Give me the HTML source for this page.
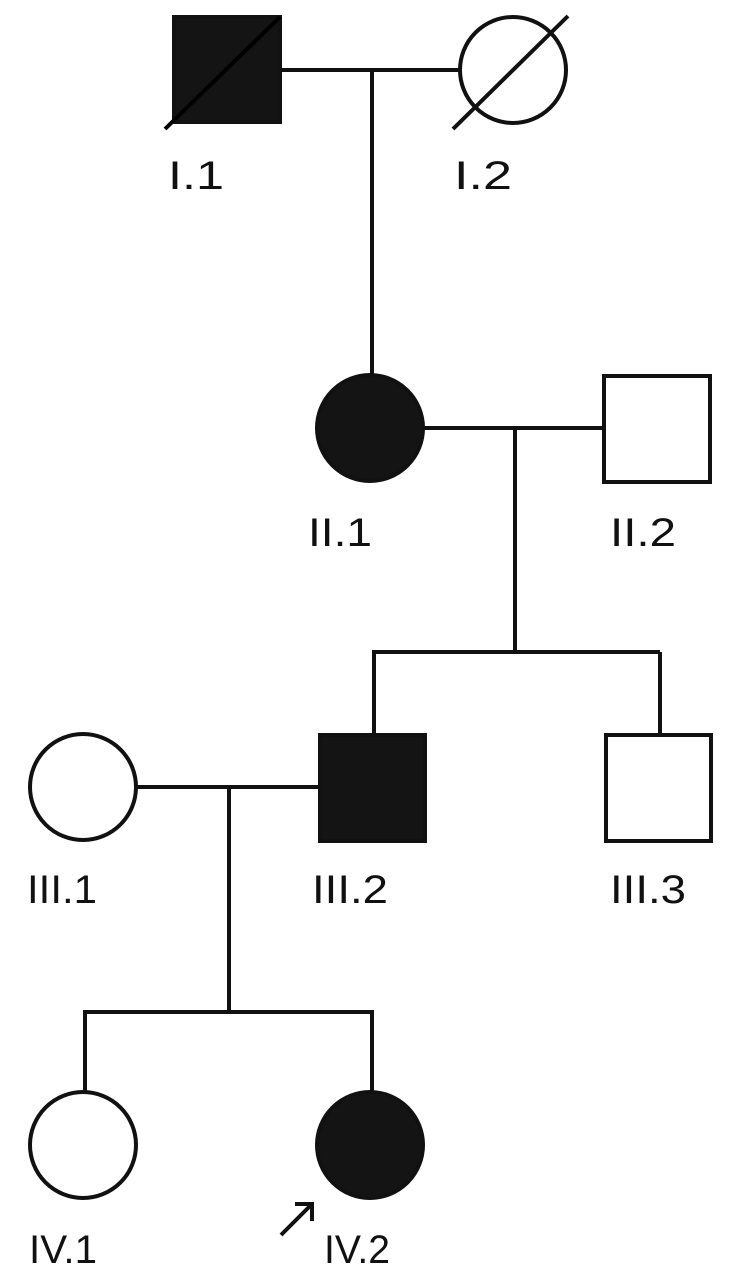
<!DOCTYPE html>
<html><head><meta charset="utf-8"><style>
html,body{margin:0;padding:0;background:#fff;}
svg{display:block;}
text{font-family:"Liberation Sans",sans-serif;font-size:40px;fill:#111;}
</style></head><body>
<svg width="731" height="1280" viewBox="0 0 731 1280" xmlns="http://www.w3.org/2000/svg">
<g stroke="#111" stroke-width="4" fill="none">
<rect x="174" y="17" width="106" height="105" fill="#141414"/>
<line x1="165" y1="129" x2="280" y2="17" stroke="#000"/>
<circle cx="513" cy="70" r="53" fill="#fff"/>
<line x1="453" y1="129" x2="568" y2="16"/>
<line x1="280" y1="70" x2="460" y2="70"/>
<line x1="372" y1="70" x2="372" y2="376"/>
<circle cx="370" cy="428" r="53" fill="#141414"/>
<rect x="604" y="376" width="106" height="106" fill="#fff"/>
<line x1="423" y1="428" x2="604" y2="428"/>
<line x1="515" y1="428" x2="515" y2="652"/>
<line x1="372" y1="652" x2="660" y2="652"/>
<line x1="374" y1="652" x2="374" y2="735"/>
<line x1="660" y1="652" x2="660" y2="735"/>
<circle cx="83" cy="787" r="53" fill="#fff"/>
<rect x="320" y="735" width="105" height="106" fill="#141414"/>
<rect x="606" y="735" width="105" height="106" fill="#fff"/>
<line x1="136" y1="787" x2="320" y2="787"/>
<line x1="229" y1="787" x2="229" y2="1012"/>
<line x1="83" y1="1012" x2="374" y2="1012"/>
<line x1="85" y1="1012" x2="85" y2="1093"/>
<line x1="372" y1="1012" x2="372" y2="1093"/>
<circle cx="83" cy="1145" r="53" fill="#fff"/>
<circle cx="370" cy="1145" r="53" fill="#141414"/>
<line x1="281" y1="1235" x2="311" y2="1205"/>
<polyline points="295,1204 312,1204 312,1221"/>
</g>
<text x="168" y="189" textLength="56" lengthAdjust="spacingAndGlyphs">I.1</text>
<text x="454" y="189" textLength="58" lengthAdjust="spacingAndGlyphs">I.2</text>
<text x="308" y="546" textLength="64" lengthAdjust="spacingAndGlyphs">II.1</text>
<text x="610" y="546" textLength="66" lengthAdjust="spacingAndGlyphs">II.2</text>
<text x="27" y="903" textLength="70" lengthAdjust="spacingAndGlyphs">III.1</text>
<text x="312" y="903" textLength="76" lengthAdjust="spacingAndGlyphs">III.2</text>
<text x="610" y="903" textLength="76" lengthAdjust="spacingAndGlyphs">III.3</text>
<text x="29" y="1263" textLength="68" lengthAdjust="spacingAndGlyphs">IV.1</text>
<text x="324" y="1263" textLength="66" lengthAdjust="spacingAndGlyphs">IV.2</text>
</svg>
</body></html>
